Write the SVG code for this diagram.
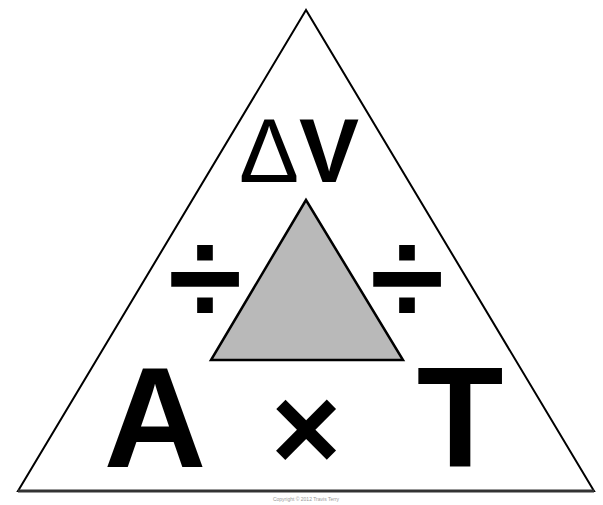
<svg xmlns="http://www.w3.org/2000/svg" width="603" height="505" viewBox="0 0 603 505">
<style>
.sym{font-family:"Liberation Sans",Arial,sans-serif;fill:#000;text-anchor:middle}
</style>
<rect width="603" height="505" fill="#fff"/>
<g id="outer-triangle">
<polygon points="306,10 18,491 594,491" fill="#fff" stroke="#000" stroke-width="2"/>
<line x1="18" y1="491" x2="594" y2="491" stroke="#333" stroke-width="3"/>
</g>
<g id="inner-triangle">
<polygon points="306,200 211,360 403,360" fill="#b9b9b9" stroke="#000" stroke-width="2.5"/>
</g>
<g id="delta-v">
<text class="sym" x="299" y="182" font-size="90"><tspan font-weight="normal">Δ</tspan><tspan font-weight="bold">V</tspan></text>
</g>
<g id="divide-left">
<text class="sym" x="205" y="324" font-size="135" font-weight="bold">÷</text>
</g>
<g id="divide-right">
<text class="sym" x="407" y="324" font-size="135" font-weight="bold">÷</text>
</g>
<g id="a">
<text class="sym" x="155" y="467" font-size="142" font-weight="bold">A</text>
</g>
<g id="times">
<text class="sym" x="306" y="470" font-size="120" font-weight="bold">×</text>
</g>
<g id="t">
<text class="sym" x="460" y="467" font-size="142" font-weight="bold">T</text>
</g>
<g id="copyright">
<text class="sym" x="306" y="501" font-size="5" style="fill:#999">Copyright © 2012 Travis Terry</text>
</g>
</svg>
